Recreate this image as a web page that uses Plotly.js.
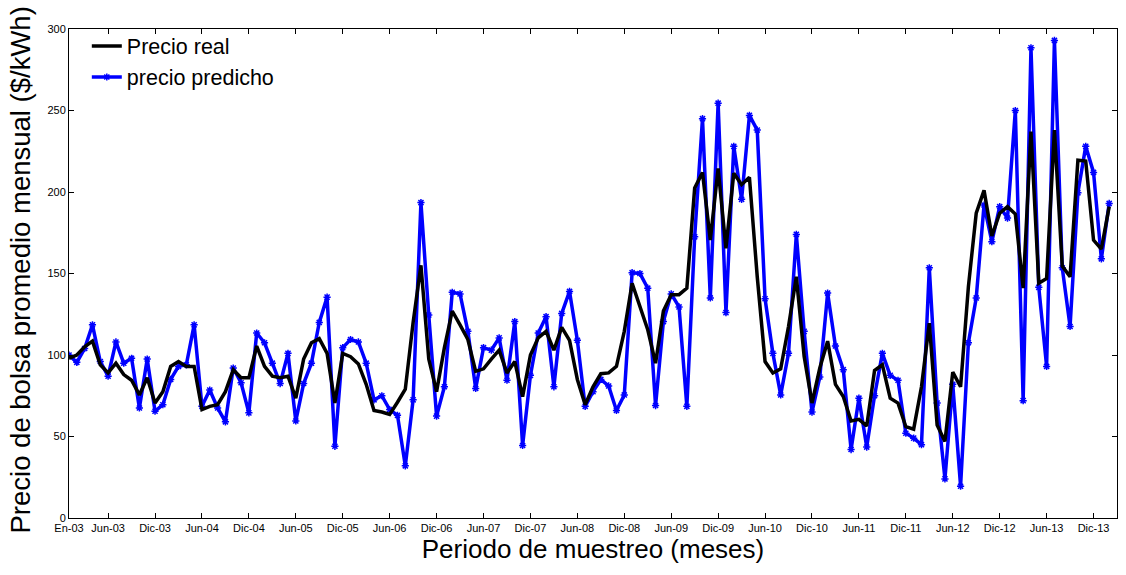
<!DOCTYPE html>
<html>
<head>
<meta charset="utf-8">
<script src="https://cdn.plot.ly/plotly-3.0.1.min.js"></script>
<style>
html,body{margin:0;padding:0;background:#fff;}
#chart{width:1126px;height:575px;}
</style>
</head>
<body>
<div id="chart"></div>
<script>
// Monthly values, Jan-2003 .. Feb-2014 (index 1..134)
const precioReal = [
  98,100,105,108.5,94,89,95,88,84.5,75.5,86,70.5,
  77.5,93,96,93,93,66.5,68.5,69.5,77.5,91,86,86,
  105.5,93,87,86,87,73.5,97.5,107.5,110,101,70.5,101,
  99,94.5,82,66,65,63.5,71,79,120,155,97.5,77.5,
  104.5,127,118.5,109.5,90,91.5,97.5,103,89,96,74.5,100,
  110.5,114.5,103,117,109,85,69.5,80.5,88.5,89,93,114.5,
  144,130,115.5,95,127,137,137,141,202.5,212,170.5,214.5,
  165.5,211.5,204.5,209,148,96,89,91.5,117.5,148,99,70.5,
  92,108.5,82,74.5,59.5,60.5,56.5,90.5,94,73.5,70.5,56,
  54.5,80.5,119.5,57,47,89.5,80.5,142,187,201,173,187,
  191,186.5,141,237,144,147,238,154.5,148,219.5,219,170.5,
  165,191
];
const precioPredicho = [
  100,95.5,104,118.5,96,87,108,95,98,67.5,97.5,65.5,
  69.5,85,93,94,118.5,68.5,78.5,67.5,59,92,83,64.5,
  113.5,107.5,95,82.5,101,59.5,82.5,95,120,135.5,44,104.5,
  109.5,108,95,72.5,75,66.5,63,32,72.5,193.5,124.5,62.5,
  80.5,138.5,137.5,114.5,79.5,104.5,103,110.5,84.5,120.5,44.5,87.5,
  113.5,123.5,80.5,125.5,139,109,68.5,77.5,85,81,66,75.5,
  150.5,150,141,69,120.5,137.5,129.5,68.5,172.5,245,135,254.5,
  126,228,195.5,247,238,134.5,101,75.5,101,174,114.5,65,
  86.5,138,105.5,91,42,73.5,43.5,75,101,87.5,84.5,52,
  49,45,153.5,70.5,24,82,19.5,107.5,135,192,169.5,191,
  184,250,72,288.5,141.5,93,293,153.5,117.5,199.5,228,212,
  159,193
];
const tickPos = [1,6,12,18,24,30,36,42,48,54,60,66,72,78,84,90,96,102,108,114,120,126,132];
const tickLabels = ['En-03','Jun-03','Dic-03','Jun-04','Dic-04','Jun-05','Dic-05','Jun-06',
  'Dic-06','Jun-07','Dic-07','Jun-08','Dic-08','Jun-09','Dic-09','Jun-10','Dic-10',
  'Jun-11','Dic-11','Jun-12','Dic-12','Jun-13','Dic-13'];
const yTicks = [0,50,100,150,200,250,300];

const monthIdx = precioReal.map((_, i) => i + 1);

const font = 'Liberation Sans, Arial, sans-serif';

const traces = [
  {
    x: monthIdx, y: precioPredicho, name: 'precio predicho',
    type: 'scatter', mode: 'lines+markers',
    line: {color: '#0000FF', width: 3.5},
    marker: {symbol: 'asterisk-open', size: 6, color: '#0000FF', line: {color: '#0000FF', width: 1.5}}
  },
  {
    x: monthIdx, y: precioReal, name: 'Precio real',
    type: 'scatter', mode: 'lines',
    line: {color: '#000000', width: 3.5}
  }
];

const axisCommon = {
  showgrid: false, zeroline: false, showline: true, linecolor: '#000', linewidth: 1,
  mirror: 'ticks', ticks: 'inside', ticklen: 5, tickcolor: '#000', tickwidth: 1,
  tickfont: {family: font, size: 11, color: '#000'}
};

const plotL = 69, plotR = 9, plotT = 29, plotB = 57;
const plotW = 1126 - plotL - plotR, plotH = 575 - plotT - plotB;

const layout = {
  width: 1126, height: 575,
  margin: {l: plotL, r: plotR, t: plotT, b: plotB},
  paper_bgcolor: '#fff', plot_bgcolor: '#fff',
  font: {family: font, color: '#000'},
  showlegend: true,
  legend: {
    x: 0.017, y: 1.007, xanchor: 'left', yanchor: 'top',
    traceorder: 'reversed', bgcolor: 'rgba(0,0,0,0)', borderwidth: 0,
    tracegroupgap: 0,
    font: {family: font, size: 21.5, color: '#000'}
  },
  xaxis: Object.assign({}, axisCommon, {
    range: [1, 135], tickmode: 'array', tickvals: tickPos, ticktext: tickLabels,
    title: {text: 'Periodo de muestreo (meses)', font: {family: font, size: 26, color: '#000'}, standoff: 6}
  }),
  yaxis: Object.assign({}, axisCommon, {
    range: [0, 300], tickmode: 'array', tickvals: yTicks,
    title: {text: ''}
  }),
  annotations: [{
    text: 'Precio de bolsa promedio mensual ($/kWh)',
    textangle: -90, showarrow: false,
    xref: 'paper', yref: 'paper',
    x: (20 - plotL) / plotW, xanchor: 'center',
    y: (575 - plotB - 536) / plotH, yanchor: 'bottom',
    font: {family: font, size: 27.5, color: '#000'}
  }]
};

Plotly.newPlot('chart', traces, layout, {displayModeBar: false, staticPlot: true});
</script>
</body>
</html>
